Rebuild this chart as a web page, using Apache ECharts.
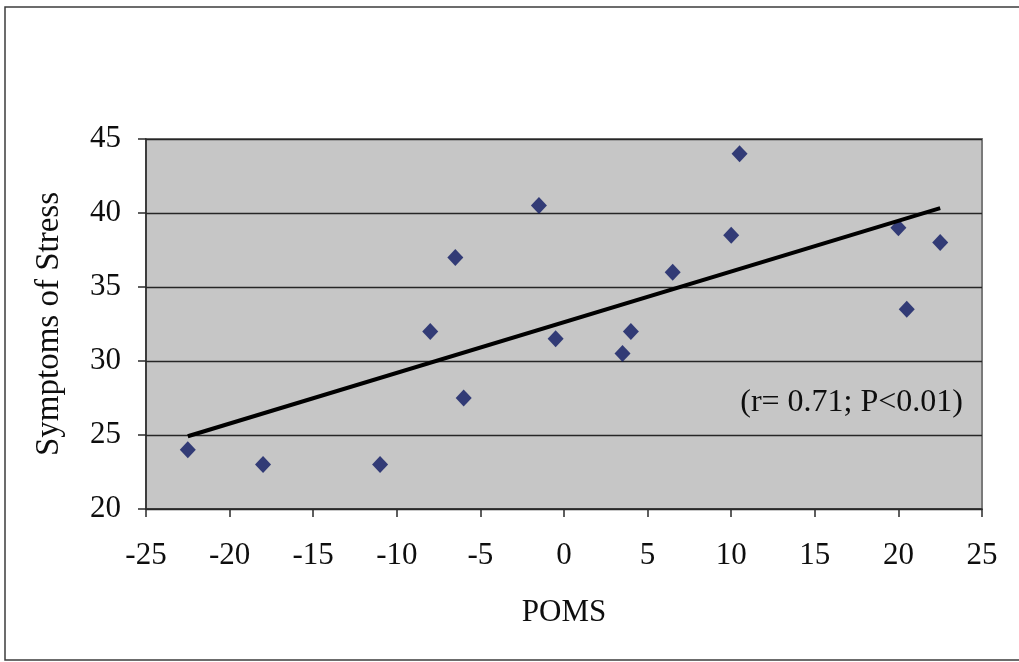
<!DOCTYPE html>
<html>
<head>
<meta charset="utf-8">
<title>Symptoms of Stress vs POMS</title>
<script src="https://cdn.jsdelivr.net/npm/echarts@6/dist/echarts.min.js"></script>
<style>
  html, body { margin: 0; padding: 0; background: #ffffff; }
  #chart { width: 1019px; height: 662px; }
</style>
</head>
<body>
<div id="chart"></div>
<script>
// POMS score (x) and symptoms-of-stress score (y) for each participant
const pomsScores   = [-22.5, -18, -11, -8, -6.5, -6, -1.5, -0.5, 3.5, 4, 6.5, 10, 10.5, 20, 20.5, 22.5];
const stressScores = [24, 23, 23, 32, 37, 27.5, 40.5, 31.5, 30.5, 32, 36, 38.5, 44, 39, 33.5, 38];

const xTicks = { min: -25, max: 25, interval: 5 };
const yTicks = { min: 20, max: 45, interval: 5 };

const xTitle = 'POMS';
const yTitle = 'Symptoms of Stress';
const statsNote = '(r= 0.71; P<0.01)';

// Least-squares linear trendline over the observed range
function linearFit(xs, ys) {
  const n = xs.length;
  const mx = xs.reduce((a, b) => a + b, 0) / n;
  const my = ys.reduce((a, b) => a + b, 0) / n;
  let sxy = 0, sxx = 0;
  for (let i = 0; i < n; i++) {
    sxy += (xs[i] - mx) * (ys[i] - my);
    sxx += (xs[i] - mx) * (xs[i] - mx);
  }
  const slope = sxy / sxx;
  return { slope, intercept: my - slope * mx };
}
const fit = linearFit(pomsScores, stressScores);
const xLo = Math.min(...pomsScores), xHi = Math.max(...pomsScores);
const trendPoints = [[xLo, fit.intercept + fit.slope * xLo], [xHi, fit.intercept + fit.slope * xHi]];

const serif = '"Liberation Serif", "DejaVu Serif", "Times New Roman", serif';
const textColor = '#0e0e0e';

const chart = echarts.init(document.getElementById('chart'), null, { renderer: 'canvas' });

chart.setOption({
  backgroundColor: '#ffffff',
  animation: false,
  grid: {
    left: 146, top: 139, right: 37, bottom: 153,
    show: true,
    backgroundColor: '#c6c6c6',
    borderColor: '#7a7a7a',
    borderWidth: 2
  },
  xAxis: {
    type: 'value',
    min: xTicks.min, max: xTicks.max, interval: xTicks.interval,
    name: xTitle,
    nameLocation: 'middle',
    nameGap: 88,
    nameTextStyle: { fontFamily: serif, fontSize: 31, color: textColor },
    axisLine: { show: true, onZero: false, lineStyle: { color: '#2a2a2a', width: 1.5 } },
    axisTick: { show: true, inside: false, length: 8, lineStyle: { color: '#2a2a2a', width: 1.5 } },
    axisLabel: { fontFamily: serif, fontSize: 31, color: textColor, margin: 31 },
    splitLine: { show: false }
  },
  yAxis: {
    type: 'value',
    min: yTicks.min, max: yTicks.max, interval: yTicks.interval,
    name: yTitle,
    nameLocation: 'middle',
    nameGap: 80,
    nameRotate: 90,
    nameTextStyle: { fontFamily: serif, fontSize: 33, color: textColor },
    axisLine: { show: true, onZero: false, lineStyle: { color: '#2a2a2a', width: 1.5 } },
    axisTick: { show: true, inside: false, length: 8, lineStyle: { color: '#2a2a2a', width: 1.5 } },
    axisLabel: { fontFamily: serif, fontSize: 31, color: textColor, margin: 25 },
    splitLine: { show: true, lineStyle: { color: '#262626', width: 1.4 } }
  },
  series: [
    {
      type: 'scatter',
      data: pomsScores.map((x, i) => [x, stressScores[i]]),
      symbol: 'diamond',
      symbolSize: [16, 17],
      itemStyle: { color: '#0c1862' },
      z: 3
    },
    {
      type: 'line',
      data: trendPoints,
      symbol: 'none',
      lineStyle: { color: '#000000', width: 4 },
      z: 4
    }
  ],
  graphic: [
    {
      type: 'rect',
      shape: { x: 5, y: 7, width: 1030, height: 653 },
      style: { fill: 'none', stroke: '#3c3c3c', lineWidth: 1.5 },
      silent: true, z: -1
    },
    {
      type: 'text',
      x: 963, y: 403,
      style: {
        text: statsNote,
        font: '32px ' + serif,
        fill: textColor,
        align: 'right',
        verticalAlign: 'middle'
      },
      z: 10
    }
  ]
});
</script>
</body>
</html>
